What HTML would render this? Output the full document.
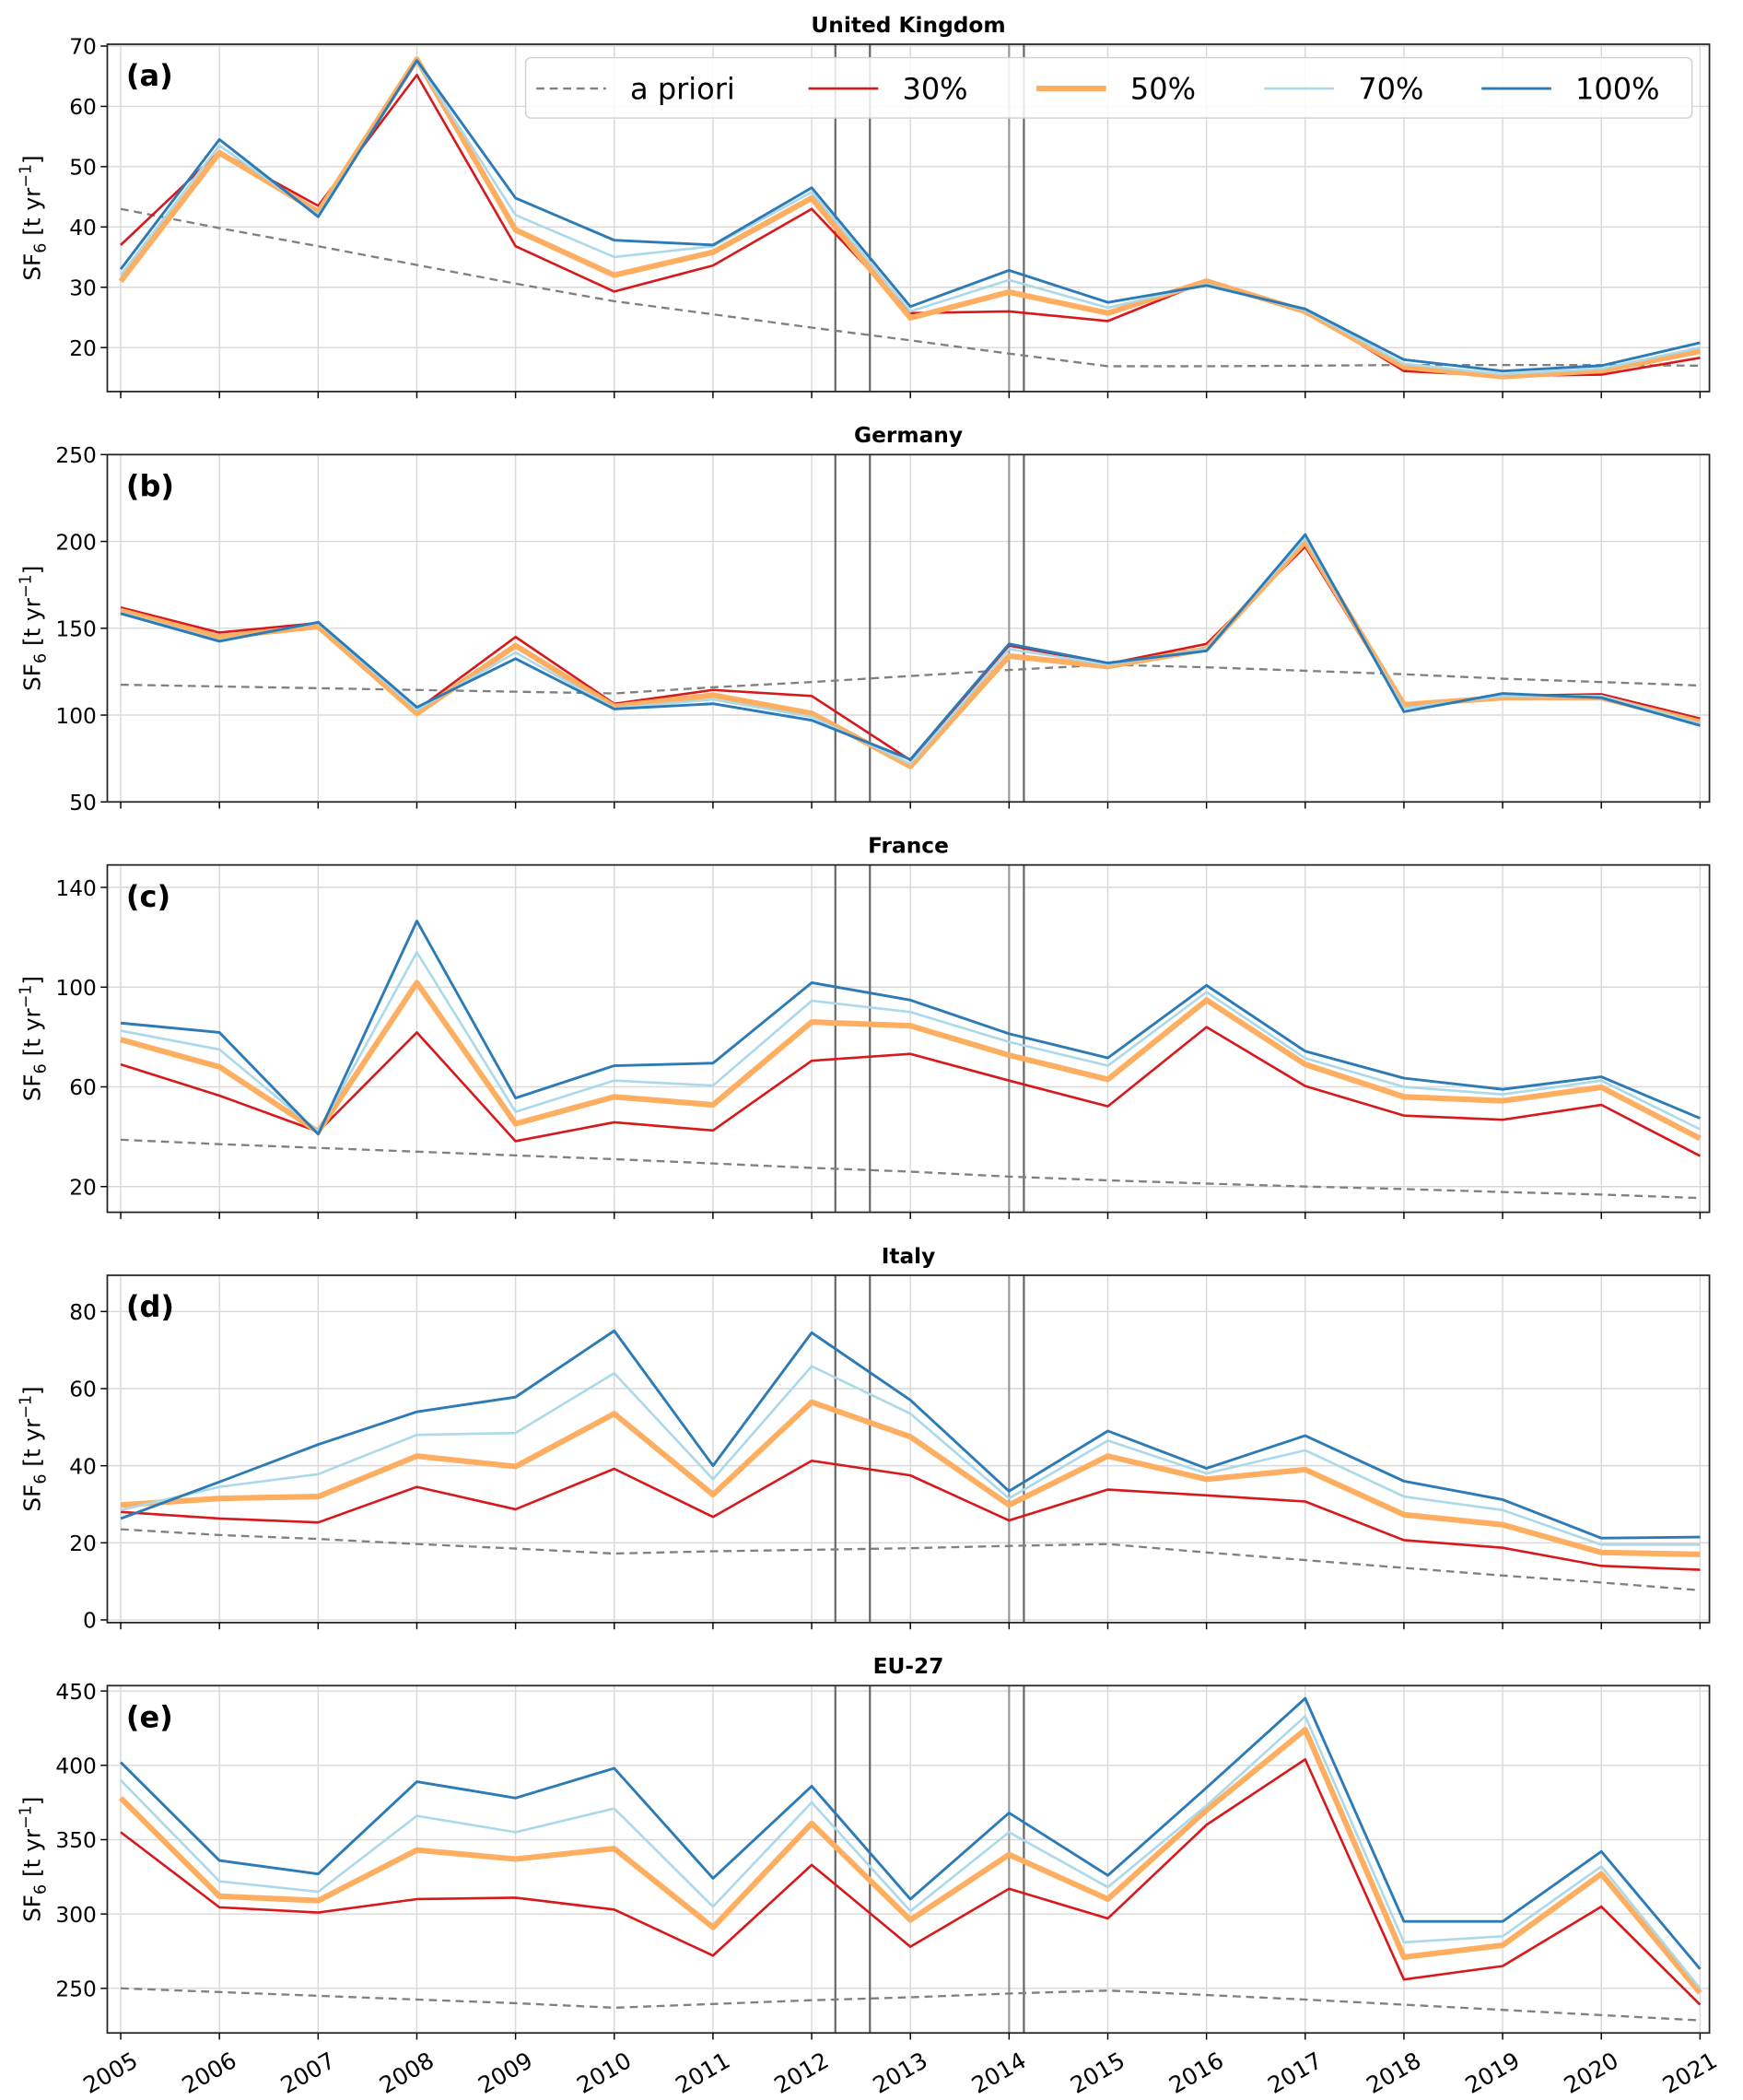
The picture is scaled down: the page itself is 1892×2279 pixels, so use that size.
<!DOCTYPE html>
<html><head><meta charset="utf-8">
<style>
html,body{margin:0;padding:0;background:#fff;}
svg{display:block;font-family:"DejaVu Sans","Liberation Sans",sans-serif;}
</style></head>
<body>
<svg id="chart" width="1892" height="2279" viewBox="0 0 1300 1566" xmlns="http://www.w3.org/2000/svg"></svg>
<script>
const years = [2005,2006,2007,2008,2009,2010,2011,2012,2013,2014,2015,2016,2017,2018,2019,2020,2021];
const vlines = [2012.24, 2012.59, 2014.0, 2014.15];

const ukPrior = [43,39.8,36.8,33.7,30.6,27.7,25.5,23.3,21.2,19,16.9,16.9,17,17.1,17.1,17.1,17];
const uk30 = [37,52.5,43.5,65.2,36.8,29.3,33.6,43,25.7,26,24.4,31,26.2,16.1,15.3,15.5,18.3];
const uk50 = [31,52.3,42.5,67.8,39.5,32,35.8,44.8,24.9,29.2,25.7,31,26,16.8,15.2,16.2,19.4];
const uk70 = [32,53.5,42,67.5,42,35,36.8,45.8,26,31.2,26.6,30.5,26.2,17.3,15.6,16.5,20];
const uk100 = [33,54.5,41.7,67.6,44.8,37.8,37,46.5,26.8,32.8,27.5,30.3,26.4,18,16.1,17,20.8];
const ukTicks = [20,30,40,50,60,70];

const dePrior = [117.5,116.5,115.5,114.5,113.5,112.5,116,119,122.5,126,129,127.5,125.5,123.5,121,119,117];
const de30 = [162,147.5,153,103,145,106.5,114.5,111,74,140,129.5,141,197,105,111,112,98];
const de50 = [160,145,151,101,140,105,111.5,101,70.5,134,128,138,200,106,110,110,96];
const de70 = [159,143,153,103,136,104,109,99,72,138,129,138,202,104,111,111,95];
const de100 = [158.5,142.5,153.5,104.5,132.5,103.5,106.5,97,74.5,141,130,137,204,102,112.5,110,94];
const deTicks = [50,100,150,200,250];

const frPrior = [38.8,37,35.5,34,32.5,31,29.3,27.5,26,24,22.5,21.2,20,19,17.8,16.8,15.4];
const fr30 = [69,56.5,42,81.8,38.2,45.8,42.5,70.5,73.2,62.5,52.2,84,60.3,48.5,46.8,52.8,32.3];
const fr50 = [79,68,42,101.8,45.2,56,52.8,86,84.5,72.7,63,94.8,69,56,54.4,59.8,39.3];
const fr70 = [82.5,75,42,114,50,62.5,60.5,94.5,90,78,68.5,98,71.5,60,57,62.5,43];
const fr100 = [85.6,81.8,41,126.5,55.5,68.5,69.5,101.8,94.8,81.3,71.6,100.7,74.3,63.5,59,64,47.4];
const frTicks = [20,60,100,140];

const itPrior = [23.5,22,21,19.7,18.5,17.2,17.8,18.2,18.6,19.2,19.7,17.5,15.5,13.5,11.5,9.7,7.7];
const it30 = [28,26.3,25.3,34.5,28.7,39.2,26.7,41.3,37.5,25.8,33.8,32.3,30.7,20.7,18.7,14,13];
const it50 = [29.8,31.5,32,42.5,39.8,53.5,32.5,56.5,47.5,29.8,42.5,36.5,39,27.3,24.7,17.5,17];
const it70 = [28.5,34.5,37.8,48,48.5,64,36.5,65.8,53.5,31.5,46.5,38,44,32,28.5,19.5,19.5];
const it100 = [26.3,35.8,45.5,54,57.8,75,40,74.5,57,33.4,49,39.3,47.8,36,31.2,21.2,21.5];
const itTicks = [0,20,40,60,80];

const euPrior = [250,247.5,245,242.5,240,237,239.5,242,244,246.5,248.5,245.5,242.5,239,235.5,232,228.5];
const eu30 = [355,304.5,301,310,311,303,272,333,278,317,297,360,404,256,265,305,239];
const eu50 = [378,312,309,343,337,344,291,361,296,340,310,370,424,271,279,327,247];
const eu70 = [390,322,315,366,355,371,305,375,302,355,318,373,433,281,285,332,250];
const eu100 = [402,336,327,389,378,398,324,386,310,368,326,385,445,295,295,342,263];
const euTicks = [250,300,350,400,450];

const legendLabels = ["a priori","30%","50%","70%","100%"];

const NS = "http://www.w3.org/2000/svg";
const svg = document.getElementById('chart');
function mk(tag, attrs, parent){const e=document.createElementNS(NS,tag);for(const k in attrs)e.setAttribute(k,attrs[k]);(parent||svg).appendChild(e);return e;}

const X0=80, X1=1275;
function xs(yr){return 90 + (yr-2005)*(1268-90)/16;}

const panels = [
 {key:'uk',title:'United Kingdom',letter:'(a)',top:33,ymin:12.7,ymax:70.3,ticks:ukTicks,s:[ukPrior,uk30,uk50,uk70,uk100]},
 {key:'germany',title:'Germany',letter:'(b)',top:339,ymin:50,ymax:250,ticks:deTicks,s:[dePrior,de30,de50,de70,de100]},
 {key:'france',title:'France',letter:'(c)',top:645,ymin:9.7,ymax:149,ticks:frTicks,s:[frPrior,fr30,fr50,fr70,fr100]},
 {key:'italy',title:'Italy',letter:'(d)',top:951,ymin:-0.7,ymax:89.4,ticks:itTicks,s:[itPrior,it30,it50,it70,it100]},
 {key:'eu27',title:'EU-27',letter:'(e)',top:1257,ymin:220,ymax:453.6,ticks:euTicks,s:[euPrior,eu30,eu50,eu70,eu100]}
];
const styles = [
 {c:'#808080',w:1.6,d:'6,4'},
 {c:'#d7191c',w:1.8},
 {c:'#fdae61',w:4.2},
 {c:'#abd9e9',w:1.8},
 {c:'#2c7bb6',w:2}
];
const vcolors = ['#666','#666','#999','#666'];
const H=259;

panels.forEach((p,pi)=>{
  const g=mk('g',{});
  
  
  const ys=v=>p.top+H-(v-p.ymin)/(p.ymax-p.ymin)*H;
  years.forEach(y=>{const l=mk('line',{x1:xs(y),x2:xs(y),y1:p.top,y2:p.top+H,stroke:'#d9d9d9','stroke-width':1},g);
    });
  p.ticks.forEach(t=>{const y=ys(t);
    const l=mk('line',{x1:X0,x2:X1,y1:y,y2:y,stroke:'#d9d9d9','stroke-width':1},g);
    
    mk('line',{x1:X0-5,x2:X0,y1:y,y2:y,stroke:'#000','stroke-width':1},g);
    const tx=mk('text',{x:X0-8,y:y+6,'text-anchor':'end','font-size':16,fill:'#000'},g);
    tx.textContent=t;
    });
  vlines.forEach((v,vi)=>{const l=mk('line',{x1:xs(v),x2:xs(v),y1:p.top,y2:p.top+H,stroke:vcolors[vi],'stroke-width':1.5},g);
    });
  p.s.forEach((arr,si)=>{
    const st=styles[si];
    const pts=arr.map((v,i)=>xs(years[i]).toFixed(1)+','+ys(v).toFixed(1)).join(' ');
    const pl=mk('polyline',{points:pts,fill:'none',stroke:st.c,'stroke-width':st.w,'stroke-linejoin':'round'},g);
    if(st.d)pl.setAttribute('stroke-dasharray',st.d);
    
    
  });
  const fr=mk('rect',{x:X0,y:p.top,width:X1-X0,height:H,fill:'none',stroke:'#222','stroke-width':1.2},g);
  
  years.forEach(y=>{mk('line',{x1:xs(y),x2:xs(y),y1:p.top+H,y2:p.top+H+5,stroke:'#000','stroke-width':1},g);});
  const ti=mk('text',{x:(X0+X1)/2,y:p.top-9,'text-anchor':'middle','font-size':16,'font-weight':'bold'},g);
  ti.textContent=p.title;
  
  const le=mk('text',{x:94,y:p.top+31,'font-size':22,'font-weight':'bold'},g);
  le.textContent=p.letter;
  
  const cy=p.top+H/2;
  const yl=mk('text',{x:0,y:0,transform:`translate(30,${cy}) rotate(-90)`,'text-anchor':'middle','font-size':17},g);
  yl.innerHTML='SF<tspan font-size="12" dy="4">6</tspan><tspan dy="-4"> [t yr</tspan><tspan font-size="12" dy="-7">−1</tspan><tspan dy="7">]</tspan>';
  
});

years.forEach(y=>{
  const t=mk('text',{x:0,y:0,transform:`translate(${xs(y)+14},${1540}) rotate(-30)`,'text-anchor':'end','font-size':17});
  t.textContent=y;
  
  
});

const lg=mk('g',{});


mk('rect',{x:392,y:43,width:870,height:45,rx:4,fill:'#fff','fill-opacity':0.85,stroke:'#d0d0d0','stroke-width':1},lg);
const lx=[400,603,773,943,1105];
legendLabels.forEach((lab,i)=>{
  const st=styles[i];
  const e=mk('g',{},lg);
  
  
  const l=mk('line',{x1:lx[i],x2:lx[i]+52,y1:66,y2:66,stroke:st.c,'stroke-width':st.w},e);
  if(st.d)l.setAttribute('stroke-dasharray',st.d);
  const t=mk('text',{x:lx[i]+70,y:74,'font-size':22},e);
  t.textContent=lab;
});
</script>
</body></html>
